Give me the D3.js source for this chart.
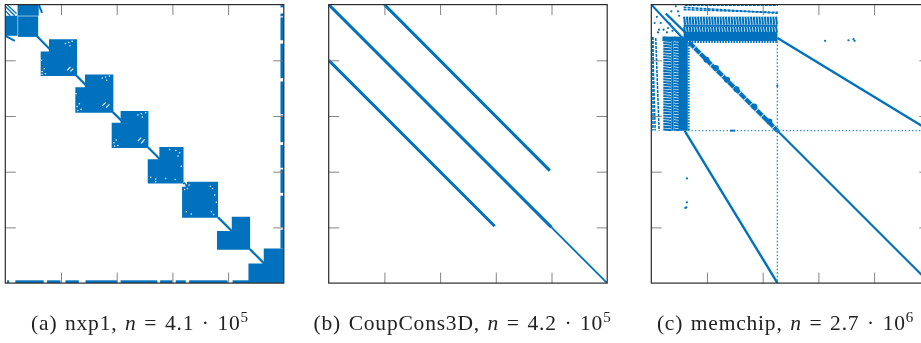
<!DOCTYPE html>
<html lang="en">
<head>
<meta charset="UTF-8">
<title>Sparsity patterns</title>
<script src="https://d3js.org/d3.v7.min.js"></script>
<style>
    html, body { margin: 0; padding: 0; background: #fff; overflow: hidden; }
    svg { display: block; filter: blur(0.4px); }
    text { font-family: "Liberation Serif", serif; fill: #222; }
</style>
</head>
<body>
<div id="chartArea"></div>
<script>
    // all positions are in matrix units, 0..5 along each side, rows counted from the top
    const tickVals = [1, 2, 3, 4];

    // (a) nxp1: [x0, x1, y0, y1, notchX, notchY], notch cut from the top left corner
    const nxpBlocks = [
        [0.635, 1.287, 0.623, 1.281, 0.784, 0.844],
        [1.257, 1.94, 1.257, 1.94, 1.43, 1.485],
        [1.91, 2.57, 1.91, 2.575, 2.07, 2.12],
        [2.557, 3.2, 2.557, 3.21, 2.766, 2.778],
        [3.174, 3.82, 3.18, 3.826, 3.26, 3.27],
        [3.80, 4.395, 3.808, 4.40, 4.066, 4.066],
        [4.365, 5, 4.377, 5, 4.64, 4.647]
    ];
    const nxpCorner = [[0.22, 0.6, 0, 0.2], [0, 0.22, 0.2, 0.56], [0.23, 0.59, 0.21, 0.58]];
    const nxpCornerHatch = [[0.03, 0.0, 0.2, 0.16], [0.0, 0.03, 0.17, 0.2], [0.0, 0.11, 0.09, 0.2]];
    const nxpTails = [[0.6, 0.0, 0.66, 0.15], [0.0, 0.56, 0.17, 0.65]];
    const nxpLinks = [[0.56, 0.8], [1.27, 1.45], [1.93, 2.1], [2.56, 2.78], [3.2, 3.27], [3.82, 4.07], [4.39, 4.65]];
    // white slits and specks inside the blocks
    const nxpSlits = [
        [1.11, 1.18, 1.17, 1.12], [1.17, 1.2, 1.22, 1.15],
        [1.74, 1.82, 1.8, 1.76], [1.81, 1.85, 1.87, 1.79],
        [2.38, 2.45, 2.44, 2.39], [2.44, 2.49, 2.5, 2.42]
    ];
    const nxpSpecks = [
        [0.66, 1.2], [0.7, 1.15], [0.72, 1.24], [0.66, 1.25], [1.08, 0.7], [1.14, 0.68], [1.2, 0.66], [1.16, 0.74],
        [1.29, 1.83], [1.33, 1.78], [1.36, 1.88], [1.3, 1.9], [1.74, 1.32], [1.8, 1.3], [1.87, 1.28], [1.82, 1.36],
        [1.95, 2.48], [1.99, 2.43], [2.02, 2.53], [1.96, 2.54], [2.38, 1.98], [2.44, 1.96], [2.52, 1.94], [2.46, 2.02],
        [3.06, 2.62], [3.13, 2.66], [3.1, 2.72], [2.61, 3.1], [2.7, 3.13], [2.88, 3.12], [3.05, 3.14],
        [3.72, 3.3], [3.76, 3.42], [3.68, 3.26], [3.25, 3.72], [3.34, 3.76], [3.7, 3.72], [3.74, 3.77],
        [3.22, 3.24], [3.27, 3.3], [3.3, 3.24], [3.22, 3.32],
        [2.95, 2.6], [3.16, 2.9], [0.65, 1.0], [1.27, 1.6], [2.7, 3.18], [3.79, 3.55]
    ];
    const nxpRight = [[0.01, 0.05], [0.16, 0.21], [0.23, 0.64], [0.7, 1.32], [1.38, 1.97], [1.99, 2.47],
        [2.52, 2.93], [2.96, 3.38], [3.43, 4.0], [4.04, 4.38]];
    const nxpBottom = [[0.03, 0.07], [0.18, 0.69], [0.75, 0.99], [1.08, 1.32], [1.44, 2.01], [2.07, 2.73],
        [2.78, 3.0], [3.06, 3.24], [3.3, 3.99], [4.08, 4.38], [4.47, 4.62]];

    // (b) CoupCons3D: three bands
    const coupThick = [[0, 0, 4, 4], [1, 0, 3.97, 2.98], [0, 1, 2.98, 3.98]];
    const coupThin = [[4, 4, 5, 5]];

    // (c) memchip
    const memColumns = [0.59, 0.64, 0.69, 0.74, 0.79, 0.84, 0.89, 0.94, 0.99, 1.04, 1.09, 1.14, 1.19, 1.24, 1.29, 1.34,
        1.39, 1.44, 1.49, 1.54, 1.59, 1.64, 1.69, 1.74, 1.79, 1.84, 1.89, 1.94, 1.99, 2.04, 2.09, 2.14, 2.19, 2.24];
    const memBands = [[0.215, 0.36], [0.4, 0.5]];
    const memSolid = [[0.58, 2.265, 0.36, 0.4], [0.58, 2.265, 0.49, 0.655], [0.2, 0.68, 0.575, 0.655]];
    const memSolidLeft = [[0.36, 0.4, 0.58, 2.265], [0.49, 0.655, 0.58, 2.265]];
    const memJag = [[0.655, 0.69]];
    const memThin = [[0, 0, 0.56, 0.6], [2.265, 2.265, 5, 5]];
    const memMedium = [[0.26, 0.16, 0.62, 0.51], [2.265, 0.6, 5, 2.265], [0.6, 2.265, 2.265, 5]];
    const memDiag = [[0.68, 0.68, 2.27, 2.27]];
    const memDash = [[0.6, 0.01, 2.27, 0.01], [0.58, 0.05, 2.27, 0.155], [0.58, 0.09, 2.27, 0.14],
        [0.02, 0.58, 0.07, 2.26], [0.08, 0.6, 0.14, 2.26], [0.03, 0.58, 0.03, 2.26]];
    const memDotted = [[0.66, 2.263, 5, 2.263], [2.263, 0.66, 2.263, 5]];
    const memBlobs = [[0.99, 0.99], [1.16, 1.14], [1.36, 1.35], [1.53, 1.52], [1.85, 1.83], [2.12, 2.1]];
    const memDots = [[3.12, 0.65], [3.54, 0.64], [3.63, 0.62], [3.65, 0.65], [0.64, 3.12], [0.64, 3.55], [0.63, 3.64],
        [0.61, 3.65], [2.263, 1.46], [1.46, 2.263], [1.43, 2.263], [1.49, 2.263],
        [0.06, 0.33], [0.17, 0.33], [0.14, 0.45], [0.22, 0.45], [0.3, 0.42], [0.36, 0.12], [0.48, 0.12], [0.44, 0.03],
        [0.38, 0.47], [0.12, 0.5], [0.28, 0.5], [0.33, 0.34], [0.5, 0.2], [0.1, 0.22]];

    const blue = '#0072bd';
    const size = 278.5;
    const svg = d3.select('#chartArea').append('svg').attr('width', 921).attr('height', 343);

    function makePanel(left, top) {
        const x = d3.scaleLinear().domain([0, 5]).range([0, size]);
        const y = d3.scaleLinear().domain([0, 5]).range([0, size]);
        const clipId = 'clip' + Math.round(left);
        svg.append('clipPath').attr('id', clipId).append('rect').attr('width', size).attr('height', size);
        const root = svg.append('g').attr('transform', `translate(${left},${top})`);
        const g = root.append('g').attr('clip-path', `url(#${clipId})`);
        return { x, y, root, g };
    }

    function drawAxes(p) {
        const tick = 10.5;
        const axes = [
            d3.axisBottom(p.x).tickValues(tickVals).tickSize(-tick),
            d3.axisTop(p.x).tickValues(tickVals).tickSize(-tick),
            d3.axisLeft(p.y).tickValues(tickVals).tickSize(-tick),
            d3.axisRight(p.y).tickValues(tickVals).tickSize(-tick)
        ];
        const moves = [`translate(0,${size})`, 'translate(0,0)', 'translate(0,0)', `translate(${size},0)`];
        axes.forEach((a, i) => {
            const ag = p.root.append('g').attr('transform', moves[i]).call(a.tickFormat(''));
            ag.select('.domain').remove();
            ag.selectAll('line').attr('stroke', '#777').attr('stroke-width', 0.9);
        });
        p.root.append('rect').attr('width', size).attr('height', size)
            .attr('fill', 'none').attr('stroke', '#2b2b2b').attr('stroke-width', 1.2);
    }

    function segs(p, data, width, color, dash, opacity) {
        p.g.append('g').selectAll('line').data(data).join('line')
            .attr('x1', d => p.x(d[0])).attr('y1', d => p.y(d[1]))
            .attr('x2', d => p.x(d[2])).attr('y2', d => p.y(d[3]))
            .attr('stroke', color || blue).attr('stroke-width', width)
            .attr('stroke-dasharray', dash || null)
            .attr('stroke-opacity', opacity || 1);
    }

    function boxes(p, data, color) {
        p.g.append('g').selectAll('rect').data(data).join('rect')
            .attr('x', d => p.x(d[0])).attr('y', d => p.y(d[2]))
            .attr('width', d => p.x(d[1]) - p.x(d[0])).attr('height', d => p.y(d[3]) - p.y(d[2]))
            .attr('fill', color || blue);
    }

    function dots(p, data, r, color) {
        p.g.append('g').selectAll('circle').data(data).join('circle')
            .attr('cx', d => p.x(d[0])).attr('cy', d => p.y(d[1]))
            .attr('r', r).attr('fill', color || blue);
    }

    function caption(cx, parts) {
        const t = svg.append('text').attr('x', cx).attr('y', 330).attr('text-anchor', 'middle')
            .attr('font-size', 21.5).attr('letter-spacing', 0.8).attr('word-spacing', 1.5);
        parts.forEach(s => {
            const span = t.append('tspan').text(s.text);
            if (s.italic) span.attr('font-style', 'italic');
            if (s.sup) span.attr('dy', -8).attr('font-size', 15);
        });
    }

    // panel a
    const a = makePanel(5.3, 4.6);
    boxes(a, nxpCorner);
    segs(a, nxpCornerHatch, 1.3);
    segs(a, nxpTails, 2);
    segs(a, nxpLinks.map(d => [d[0], d[0], d[1], d[1]]), 2.2);
    a.g.append('g').selectAll('path').data(nxpBlocks).join('path')
        .attr('fill', blue)
        .attr('d', d => {
            const [x0, x1, y0, y1, nx, ny] = d;
            const path = d3.path();
            path.moveTo(a.x(nx), a.y(y0));
            path.lineTo(a.x(x1), a.y(y0));
            path.lineTo(a.x(x1), a.y(y1));
            path.lineTo(a.x(x0), a.y(y1));
            path.lineTo(a.x(x0), a.y(ny));
            path.lineTo(a.x(nx), a.y(ny));
            path.closePath();
            return path.toString();
        });
    segs(a, nxpSlits, 1.1, '#fff');
    dots(a, nxpSpecks, 0.75, '#fff');
    boxes(a, nxpRight.map(d => [4.94, 5, d[0], d[1]]));
    boxes(a, nxpBottom.map(d => [d[0], d[1], 4.95, 5]));
    drawAxes(a);

    // panel b
    const b = makePanel(328.7, 4.6);
    segs(b, coupThick, 3);
    segs(b, coupThin, 1.8);
    drawAxes(b);

    // panel c
    const c = makePanel(651.3, 4.6);
    boxes(c, memSolid);
    boxes(c, memSolidLeft);
    memBands.forEach(band => {
        segs(c, memColumns.map(v => [v, band[0], v + 0.015, band[1]]), 2.1);
        segs(c, memColumns.map(v => [band[0], v, band[1], v + 0.015]), 2.1);
    });
    memJag.forEach(band => {
        segs(c, memColumns.map(v => [v, band[0], v, band[1]]), 1.6);
        segs(c, memColumns.map(v => [band[0], v, band[1], v]), 1.6);
    });
    segs(c, memDash, 1.6, blue, '3 1');
    segs(c, memThin, 2.1);
    segs(c, memMedium, 2.4);
    segs(c, memDiag, 5.5, blue, null, 0.2);
    segs(c, memDiag, 4, blue, '7 1');
    segs(c, memDotted, 1.4, '#2a8ccb', '1.3 2.2');
    dots(c, memBlobs, 3);
    dots(c, memDots, 1.1);
    drawAxes(c);

    caption(140, [{ text: '(a) nxp1, ' }, { text: 'n', italic: true }, { text: ' = 4.1 · 10' }, { text: '5', sup: true }]);
    caption(462.5, [{ text: '(b) CoupCons3D, ' }, { text: 'n', italic: true }, { text: ' = 4.2 · 10' }, { text: '5', sup: true }]);
    caption(785.5, [{ text: '(c) memchip, ' }, { text: 'n', italic: true }, { text: ' = 2.7 · 10' }, { text: '6', sup: true }]);
</script>
</body>
</html>
